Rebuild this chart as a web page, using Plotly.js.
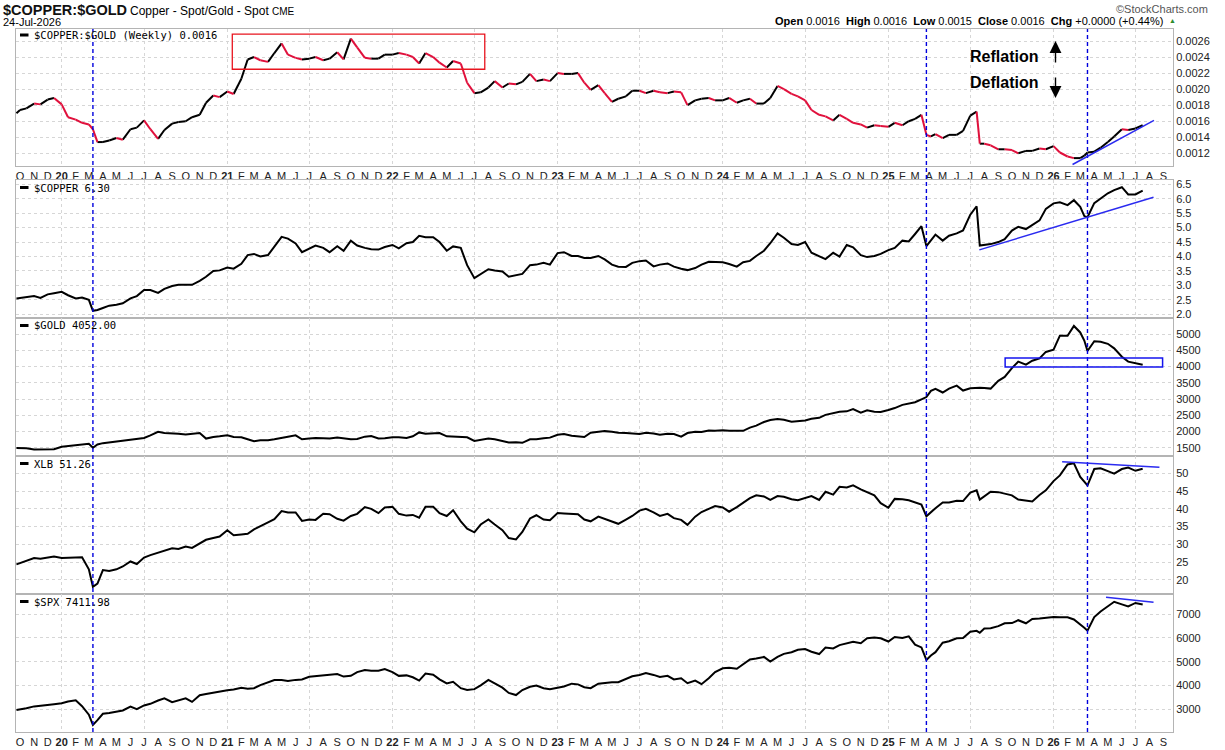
<!DOCTYPE html>
<html><head><meta charset="utf-8">
<script src="https://cdn.plot.ly/plotly-3.0.1.min.js"></script>
<style>html,body{margin:0;padding:0;background:#fff;}#chart{width:1225px;height:750px;}</style>
</head><body><div id="chart"></div>
<script>
// ---------- DATA ----------
const dates = [
'2019-09-23','2019-10-01','2019-10-15','2019-11-01','2019-11-15','2019-12-01','2019-12-15',
'2020-01-01','2020-01-15','2020-02-01','2020-02-15','2020-03-01','2020-03-10','2020-03-20','2020-04-01','2020-04-15','2020-05-01','2020-05-15','2020-06-01','2020-06-15','2020-07-01','2020-07-15','2020-08-01','2020-08-15','2020-09-01','2020-09-15','2020-10-01','2020-10-15','2020-11-01','2020-11-15','2020-12-01','2020-12-15',
'2021-01-01','2021-01-15','2021-02-01','2021-02-15','2021-03-01','2021-03-15','2021-04-01','2021-04-15','2021-05-01','2021-05-15','2021-06-01','2021-06-15','2021-07-01','2021-07-15','2021-08-01','2021-08-15','2021-09-01','2021-09-15','2021-10-01','2021-10-15','2021-11-01','2021-11-15','2021-12-01','2021-12-15',
'2022-01-01','2022-01-15','2022-02-01','2022-02-15','2022-03-01','2022-03-15','2022-04-01','2022-04-15','2022-05-01','2022-05-15','2022-06-01','2022-06-15','2022-07-01','2022-07-15','2022-08-01','2022-08-15','2022-09-01','2022-09-15','2022-10-01','2022-10-15','2022-11-01','2022-11-15','2022-12-01','2022-12-15',
'2023-01-01','2023-01-15','2023-02-01','2023-02-15','2023-03-01','2023-03-15','2023-04-01','2023-04-15','2023-05-01','2023-05-15','2023-06-01','2023-06-15','2023-07-01','2023-07-15','2023-08-01','2023-08-15','2023-09-01','2023-09-15','2023-10-01','2023-10-15','2023-11-01','2023-11-15','2023-12-01','2023-12-15',
'2024-01-01','2024-01-15','2024-02-01','2024-02-15','2024-03-01','2024-03-15','2024-04-01','2024-04-15','2024-05-01','2024-05-15','2024-06-01','2024-06-15','2024-07-01','2024-07-15','2024-08-01','2024-08-15','2024-09-01','2024-09-15','2024-10-01','2024-10-15','2024-11-01','2024-11-15','2024-12-01','2024-12-15',
'2025-01-01','2025-01-15','2025-02-01','2025-02-15','2025-03-01','2025-03-15','2025-03-26','2025-04-05','2025-04-15','2025-05-01','2025-05-15','2025-06-01','2025-06-15','2025-07-01','2025-07-15','2025-07-22','2025-08-01','2025-08-15','2025-09-01','2025-09-15','2025-10-01','2025-10-15','2025-11-01','2025-11-15','2025-12-01','2025-12-15',
'2026-01-01','2026-01-15','2026-02-01','2026-02-15','2026-03-01','2026-03-10','2026-03-17','2026-04-01','2026-04-15','2026-05-01','2026-05-15','2026-06-01','2026-06-15','2026-07-01','2026-07-17'
];
const ratio = [
0.00170,0.00174,0.00176,0.00182,0.00181,0.00187,0.00189,
0.00181,0.00165,0.00162,0.00158,0.00156,0.00150,0.00134,0.00134,0.00136,0.00139,0.00137,0.00150,0.00152,0.00161,0.00150,0.00138,0.00149,0.00157,0.00159,0.00160,0.00165,0.00168,0.00183,0.00192,0.00190,
0.00197,0.00194,0.00213,0.00237,0.00240,0.00236,0.00234,0.00245,0.00257,0.00243,0.00239,0.00237,0.00238,0.00240,0.00236,0.00238,0.00246,0.00237,0.00263,0.00252,0.00239,0.00238,0.00238,0.00243,
0.00243,0.00245,0.00243,0.00240,0.00232,0.00245,0.00240,0.00233,0.00227,0.00235,0.00232,0.00208,0.00195,0.00196,0.00202,0.00210,0.00202,0.00207,0.00206,0.00209,0.00219,0.00210,0.00212,0.00210,
0.00220,0.00219,0.00219,0.00220,0.00208,0.00199,0.00205,0.00195,0.00184,0.00188,0.00191,0.00198,0.00198,0.00195,0.00198,0.00196,0.00195,0.00197,0.00196,0.00180,0.00186,0.00188,0.00189,0.00186,
0.00186,0.00189,0.00183,0.00186,0.00188,0.00182,0.00182,0.00189,0.00204,0.00200,0.00194,0.00191,0.00186,0.00174,0.00168,0.00166,0.00161,0.00168,0.00163,0.00158,0.00156,0.00152,0.00155,0.00154,
0.00153,0.00158,0.00155,0.00160,0.00163,0.00168,0.00143,0.00141,0.00144,0.00139,0.00143,0.00143,0.00148,0.00167,0.00172,0.00132,0.00132,0.00130,0.00125,0.00125,0.00124,0.00120,0.00123,0.00123,0.00126,0.00125,
0.00129,0.00121,0.00116,0.00114,0.00114,0.00117,0.00121,0.00122,0.00127,0.00134,0.00141,0.00150,0.00149,0.00151,0.00155
];
const copper = [
2.55,2.57,2.59,2.63,2.57,2.69,2.73,
2.78,2.66,2.55,2.58,2.50,2.12,2.15,2.22,2.30,2.33,2.38,2.55,2.63,2.84,2.84,2.74,2.88,2.98,3.02,3.02,3.02,3.16,3.30,3.50,3.52,
3.62,3.58,3.75,4.05,4.09,4.00,4.05,4.36,4.68,4.62,4.45,4.15,4.27,4.38,4.30,4.15,4.36,4.20,4.55,4.38,4.30,4.25,4.24,4.33,
4.40,4.28,4.46,4.50,4.72,4.67,4.67,4.50,4.20,4.35,4.30,3.70,3.25,3.40,3.56,3.52,3.48,3.30,3.36,3.40,3.70,3.72,3.78,3.72,
4.12,4.15,4.02,4.02,3.95,3.95,4.02,3.90,3.72,3.65,3.64,3.78,3.84,3.86,3.66,3.72,3.76,3.65,3.58,3.53,3.60,3.72,3.82,3.82,
3.80,3.74,3.65,3.80,3.85,4.02,4.20,4.46,4.80,4.65,4.43,4.40,4.50,4.13,4.02,3.91,4.13,4.00,4.40,4.32,4.05,3.98,4.02,4.09,
4.22,4.30,4.55,4.52,4.78,5.05,4.36,4.57,4.76,4.55,4.72,4.80,4.90,5.45,5.74,4.38,4.40,4.43,4.50,4.60,4.90,5.03,4.95,5.10,5.25,5.65,
5.84,5.88,5.78,5.95,5.72,5.40,5.36,5.85,6.02,6.19,6.30,6.40,6.15,6.15,6.28
];
const gold = [
1490,1485,1480,1445,1440,1440,1450,
1530,1550,1585,1610,1620,1500,1600,1640,1665,1700,1715,1735,1770,1800,1880,1990,1950,1950,1930,1905,1930,1950,1780,1830,1850,
1880,1830,1820,1760,1700,1730,1730,1760,1810,1840,1880,1760,1780,1800,1790,1780,1810,1780,1760,1770,1840,1860,1785,1790,
1820,1820,1800,1850,1970,1930,1940,1950,1850,1840,1850,1820,1710,1740,1780,1760,1700,1660,1670,1650,1760,1760,1790,1810,
1900,1920,1870,1840,1830,1960,1990,2010,1990,1960,1950,1940,1920,1960,1940,1900,1930,1920,1840,1950,1990,1985,2030,2020,
2040,2020,2020,2020,2120,2180,2290,2350,2380,2360,2300,2320,2340,2390,2420,2510,2570,2610,2620,2690,2580,2650,2610,2600,
2660,2720,2820,2850,2900,2990,3060,3250,3310,3200,3320,3410,3260,3330,3350,3350,3340,3320,3560,3680,3950,4150,4060,4180,4250,4450,
4520,4950,4950,5250,5050,4800,4480,4780,4760,4700,4560,4300,4150,4100,4052
];
const xlb = [
24.4,24.8,25.3,26.2,26.0,26.3,26.6,
26.2,26.3,26.4,26.4,23.0,18.1,19.0,22.8,22.5,23.0,23.8,25.2,24.5,26.3,27.0,27.6,28.2,28.9,28.7,29.4,29.0,30.2,31.3,31.8,32.2,
34.0,32.6,32.8,33.0,34.2,35.2,36.2,37.1,39.4,39.0,39.0,36.6,37.0,36.9,38.6,38.5,37.2,36.7,38.0,38.6,40.5,40.0,38.8,40.4,
40.6,38.6,38.1,38.3,37.5,40.6,40.6,38.8,38.0,39.6,36.5,34.4,33.4,35.6,37.0,35.6,34.0,31.8,31.4,33.5,37.3,38.2,37.0,36.8,
38.8,38.7,38.6,38.5,37.0,36.5,37.8,37.2,36.5,35.8,37.0,38.0,39.5,40.0,39.0,38.0,38.6,37.4,36.9,35.5,37.8,39.1,40.0,40.8,
40.4,39.2,40.5,41.8,43.0,43.8,43.5,42.5,43.6,43.4,42.7,42.4,43.0,43.6,42.5,44.8,44.0,46.2,46.0,46.6,45.5,44.8,43.8,41.6,
40.3,42.8,42.7,42.4,41.8,41.2,37.9,39.2,40.2,41.8,41.8,42.3,42.2,44.6,45.2,42.6,43.6,44.8,44.7,44.2,43.8,42.6,42.4,42.1,43.9,45.2,
47.8,49.4,52.5,52.8,49.0,47.5,46.6,51.2,51.4,50.6,49.9,51.2,51.6,50.7,51.26
];
const spx = [
2960,2980,3030,3110,3130,3150,3200,
3240,3320,3370,3120,2760,2330,2530,2800,2830,2880,2940,3100,2990,3150,3220,3360,3450,3290,3350,3450,3300,3580,3630,3690,3730,
3790,3820,3900,3860,3880,4010,4140,4220,4220,4180,4230,4250,4360,4390,4430,4470,4480,4370,4400,4560,4650,4620,4620,4690,
4560,4400,4420,4340,4200,4500,4450,4250,4080,4150,3880,3800,3840,4000,4230,4080,3900,3680,3590,3800,3940,3990,3880,3830,
3880,3950,4070,4040,3920,3880,4070,4100,4130,4130,4250,4380,4440,4520,4440,4350,4400,4250,4300,4090,4200,4050,4300,4560,
4720,4740,4700,4900,5090,5130,5200,5000,5200,5330,5400,5500,5530,5420,5320,5600,5560,5700,5760,5840,5780,5990,6020,5990,
5850,6040,6000,6070,5720,5600,5070,5260,5400,5800,5860,5990,6000,6260,6300,6220,6400,6410,6500,6620,6630,6750,6620,6800,6820,6840,
6890,6870,6870,6780,6580,6430,6310,6880,7120,7330,7530,7420,7330,7480,7412
];
// x-axis month ticks and labels
const tickDates = [
'2019-10-01','2019-11-01','2019-12-01',
'2020-01-01','2020-02-01','2020-03-01','2020-04-01','2020-05-01','2020-06-01','2020-07-01','2020-08-01','2020-09-01','2020-10-01','2020-11-01','2020-12-01',
'2021-01-01','2021-02-01','2021-03-01','2021-04-01','2021-05-01','2021-06-01','2021-07-01','2021-08-01','2021-09-01','2021-10-01','2021-11-01','2021-12-01',
'2022-01-01','2022-02-01','2022-03-01','2022-04-01','2022-05-01','2022-06-01','2022-07-01','2022-08-01','2022-09-01','2022-10-01','2022-11-01','2022-12-01',
'2023-01-01','2023-02-01','2023-03-01','2023-04-01','2023-05-01','2023-06-01','2023-07-01','2023-08-01','2023-09-01','2023-10-01','2023-11-01','2023-12-01',
'2024-01-01','2024-02-01','2024-03-01','2024-04-01','2024-05-01','2024-06-01','2024-07-01','2024-08-01','2024-09-01','2024-10-01','2024-11-01','2024-12-01',
'2025-01-01','2025-02-01','2025-03-01','2025-04-01','2025-05-01','2025-06-01','2025-07-01','2025-08-01','2025-09-01','2025-10-01','2025-11-01','2025-12-01',
'2026-01-01','2026-02-01','2026-03-01','2026-04-01','2026-05-01','2026-06-01','2026-07-01','2026-08-01','2026-09-01'
];
const tickLabels = [
'O','N','D',
'<b>20</b>','F','M','A','M','J','J','A','S','O','N','D',
'<b>21</b>','F','M','A','M','J','J','A','S','O','N','D',
'<b>22</b>','F','M','A','M','J','J','A','S','O','N','D',
'<b>23</b>','F','M','A','M','J','J','A','S','O','N','D',
'<b>24</b>','F','M','A','M','J','J','A','S','O','N','D',
'<b>25</b>','F','M','A','M','J','J','A','S','O','N','D',
'<b>26</b>','F','M','A','M','J','J','A','S'
];
const gridDates = ['2020-01-01','2020-07-01','2021-01-01','2021-07-01','2022-01-01','2022-07-01','2023-01-01','2023-07-01','2024-01-01','2024-07-01','2025-01-01','2025-07-01','2026-01-01','2026-07-01'];
const eventDates = ['2020-03-10','2025-03-26','2026-03-17'];
// annotation drawings (in data units)
const redBox = {x:['2021-01-12','2022-07-24'], y:[0.002248,0.002685]};
const ratioTrend = {x:['2026-02-12','2026-08-11'], y:[0.00106,0.00161]};
const copperTrend = {x:['2025-07-21','2026-08-10'], y:[4.23,6.05]};
const goldBox = {x:['2025-09-16','2026-08-30'], y:[3982,4260]};
const xlbTrend = {x:['2026-01-20','2026-08-23'], y:[53.26,51.7]};
const spxTrend = {x:['2026-04-27','2026-08-10'], y:[7717,7506]};
const legends = ['$COPPER:$GOLD (Weekly) 0.0016','$COPPER 6.30','$GOLD 4052.00','XLB 51.26','$SPX 7411.98'];

// ---------- LAYOUT ----------
const W=1225,H=750,L=16,R=52,T=29,B=18;
const PW=W-L-R, PH=H-T-B;
const PX = x => (x-L)/PW;
const PY = y => (H-B-y)/PH;
const xRange = ['2019-09-22','2026-09-22'];
const FONT = 'Liberation Sans, Arial, sans-serif';
const GRID = '#d6d6d6', FRAME = '#b4b4b4';

// ratio line coloured by direction: black when rising, red when falling
const upX=[], upY=[], dnX=[], dnY=[];
for (let i=0;i<ratio.length-1;i++){
  if (ratio[i+1] < ratio[i]) { dnX.push(dates[i],dates[i+1],null); dnY.push(ratio[i],ratio[i+1],null); }
  else { upX.push(dates[i],dates[i+1],null); upY.push(ratio[i],ratio[i+1],null); }
}

const lineStyle = {color:'#000', width:2};
const traces = [
  {x:upX, y:upY, xaxis:'x', yaxis:'y', mode:'lines', line:{color:'#000', width:2}, connectgaps:false, hoverinfo:'skip'},
  {x:dnX, y:dnY, xaxis:'x', yaxis:'y', mode:'lines', line:{color:'#e0103c', width:2}, connectgaps:false, hoverinfo:'skip'},
  {x:dates, y:copper, xaxis:'x2', yaxis:'y2', mode:'lines', line:lineStyle, hoverinfo:'skip'},
  {x:dates, y:gold, xaxis:'x3', yaxis:'y3', mode:'lines', line:lineStyle, hoverinfo:'skip'},
  {x:dates, y:xlb, xaxis:'x4', yaxis:'y4', mode:'lines', line:lineStyle, hoverinfo:'skip'},
  {x:dates, y:spx, xaxis:'x5', yaxis:'y5', mode:'lines', line:lineStyle, hoverinfo:'skip'}
];

const domains = [[PY(166),1],[PY(318),PY(180)],[PY(456),PY(318)],[PY(594),PY(456)],[0,PY(594)]];
function xAx(i, labels){
  return {type:'date', range:xRange, anchor: i===1?'y':'y'+i, matches: i===1?undefined:'x',
    showgrid:false, zeroline:false, showline:true, mirror:true, linecolor:FRAME, linewidth:1,
    tickmode:'array', tickvals:tickDates, ticktext:tickLabels, ticks:'', showticklabels:labels,
    tickfont:{family:FONT, size:11, color:'#222'}, tickangle:0,
    minor:{tickmode:'array', tickvals:gridDates, showgrid:true, gridcolor:GRID, griddash:'3px,3px', gridwidth:1, ticks:''},
    fixedrange:true};
}
function yAx(i, range, tick0, dtick, fmt){
  return {domain:domains[i-1], range:range, anchor: i===1?'x':'x'+i, side:'right',
    showgrid:true, gridcolor:GRID, griddash:'3px,3px', zeroline:false, showline:true, mirror:true,
    linecolor:FRAME, linewidth:1, tickmode:'linear', tick0:tick0, dtick:dtick, tickformat:fmt, ticks:'',
    tickfont:{family:FONT, size:11, color:'#222'}, fixedrange:true};
}

const shapes = [];
eventDates.forEach(d => shapes.push({type:'line', xref:'x', yref:'paper', x0:d, x1:d, y0:0, y1:1,
  line:{color:'#0000dd', width:1.4, dash:'4px,3px'}}));
shapes.push({type:'rect', xref:'x', yref:'y', x0:redBox.x[0], x1:redBox.x[1], y0:redBox.y[0], y1:redBox.y[1], line:{color:'#e8141e', width:1.3}});
const blue = {color:'#2a2af0', width:1.5};
shapes.push({type:'line', xref:'x', yref:'y', x0:ratioTrend.x[0], x1:ratioTrend.x[1], y0:ratioTrend.y[0], y1:ratioTrend.y[1], line:blue});
shapes.push({type:'line', xref:'x2', yref:'y2', x0:copperTrend.x[0], x1:copperTrend.x[1], y0:copperTrend.y[0], y1:copperTrend.y[1], line:blue});
shapes.push({type:'rect', xref:'x3', yref:'y3', x0:goldBox.x[0], x1:goldBox.x[1], y0:goldBox.y[0], y1:goldBox.y[1], line:{color:'#1515ee', width:1.5}});
shapes.push({type:'line', xref:'x4', yref:'y4', x0:xlbTrend.x[0], x1:xlbTrend.x[1], y0:xlbTrend.y[0], y1:xlbTrend.y[1], line:blue});
shapes.push({type:'line', xref:'x5', yref:'y5', x0:spxTrend.x[0], x1:spxTrend.x[1], y0:spxTrend.y[0], y1:spxTrend.y[1], line:blue});
const legendY = [35, 187.5, 325.5, 463.5, 601.5];
legendY.forEach(y => shapes.push({type:'line', xref:'paper', yref:'paper', x0:PX(20), x1:PX(28.5), y0:PY(y), y1:PY(y), line:{color:'#000', width:3}}));

const A = (text, x, y, o={}) => Object.assign({text:text, xref:'paper', yref:'paper', x:PX(x), y:PY(y), showarrow:false,
  xanchor:'left', yanchor:'middle', font:{family:FONT, size:11, color:'#000'}}, o);
const annotations = [
  A('<b>$COPPER:$GOLD</b>', 1, 10, {font:{family:FONT, size:14.5, color:'#111'}}),
  A('Copper - Spot/Gold - Spot', 128, 11, {font:{family:FONT, size:12, color:'#000'}}),
  A('CME', 270, 12, {font:{family:FONT, size:10, color:'#000'}}),
  A('24-Jul-2026', 1, 21.5, {font:{family:FONT, size:11, color:'#000'}}),
  A('©StockCharts.com', 1210, 9, {xanchor:'right', font:{family:FONT, size:11, color:'#555'}}),
  A('<b>Open</b> 0.0016  <b>High</b> 0.0016  <b>Low</b> 0.0015  <b>Close</b> 0.0016  <b>Chg</b> +0.0000 (+0.44%)', 1165, 21, {xanchor:'right'}),
  A('▲', 1167, 21, {font:{family:FONT, size:7, color:'#2e8b2e'}}),
  A('<b>Reflation</b>', 1003.5, 56.5, {xanchor:'center', font:{family:FONT, size:16, color:'#000'}}),
  A('<b>Deflation</b>', 1003.5, 82.5, {xanchor:'center', font:{family:FONT, size:16, color:'#000'}}),
  {text:'', xref:'paper', yref:'paper', x:PX(1055.5), y:PY(41), ax:0, ay:23, showarrow:true, arrowhead:2, arrowsize:1.7, arrowwidth:1.4, arrowcolor:'#000'},
  {text:'', xref:'paper', yref:'paper', x:PX(1055.5), y:PY(98), ax:0, ay:-22, showarrow:true, arrowhead:2, arrowsize:1.7, arrowwidth:1.4, arrowcolor:'#000'}
];
legends.forEach((t,i) => annotations.push(A(t, 31.5, legendY[i], {font:{family:'DejaVu Sans Mono, monospace', size:10.5, color:'#000'}})));

const layout = {
  width:W, height:H, margin:{l:L, r:R, t:T, b:B}, paper_bgcolor:'#fff', plot_bgcolor:'#fff',
  showlegend:false, font:{family:FONT, size:11, color:'#222'},
  xaxis:xAx(1,true), xaxis2:xAx(2,false), xaxis3:xAx(3,false), xaxis4:xAx(4,false), xaxis5:xAx(5,true),
  yaxis:yAx(1,[0.0010417,0.0027496],0.0012,0.0002,'.4f'),
  yaxis2:yAx(2,[1.872,6.649],2,0.5,'.1f'),
  yaxis3:yAx(3,[1244,5495],1500,500,'d'),
  yaxis4:yAx(4,[16.06,54.86],20,5,'d'),
  yaxis5:yAx(5,[2029,7857],3000,1000,'d'),
  shapes:shapes, annotations:annotations
};
Plotly.newPlot('chart', traces, layout, {displayModeBar:false, staticPlot:true});
</script></body></html>
